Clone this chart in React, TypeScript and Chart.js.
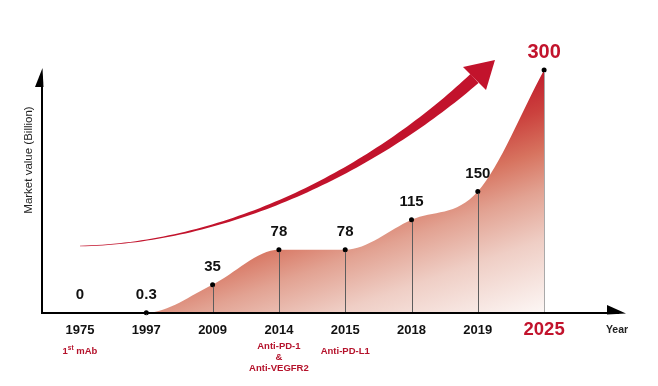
import { useEffect, useRef } from 'react';
import { Chart, registerables } from 'chart.js';

Chart.register(...registerables);

// ---------- data ----------
const YEARS: string[] = ['1975', '1997', '2009', '2014', '2015', '2018', '2019', '2025'];
const VALUES: number[] = [0, 0.3, 35, 78, 78, 115, 150, 300];
const VALUE_LABELS: string[] = ['0', '0.3', '35', '78', '78', '115', '150', '300'];
const NOTES: string[][] = [['1st mAb'], [], [], ['Anti-PD-1', '&', 'Anti-VEGFR2'], ['Anti-PD-L1'], [], [], []];
const X_TITLE = 'Year';
const Y_TITLE = 'Market value (Billion)';
const HIGHLIGHT_INDEX = 7;
// decorative growth arrow, in [category index, value] units
const ARROW_SHAFT: number[][] = [[0, 82.7], [2.262, 86.4], [4.442, 178.4], [5.95, 289.5]];
const ARROW_HEAD: number[][] = [[6.259, 312.3], [5.777, 303.7], [6.124, 275.3]];

const FONT = "'Liberation Sans', Arial, Helvetica, sans-serif";
const RED = '#c2132c';
const NOTE_RED = '#b5122b';

const overlayPlugin = {
  id: 'overlay',
  afterDatasetsDraw(chart: any) {
    const ctx: CanvasRenderingContext2D = chart.ctx;
    const ys = chart.scales.y;
    const meta = chart.getDatasetMeta(0);
    const base = ys.getPixelForValue(0);
    meta.data.forEach((pt: any, i: number) => {
      if (i === 0) return;
      ctx.save();
      ctx.strokeStyle = i === HIGHLIGHT_INDEX ? '#a9a9a9' : '#5c5c5c';
      ctx.lineWidth = 1;
      const x = Math.round(pt.x) + 0.5;
      ctx.beginPath();
      ctx.moveTo(x, pt.y + 2);
      ctx.lineTo(x, base);
      ctx.stroke();
      ctx.restore();
    });
  },
  afterDraw(chart: any) {
    const ctx: CanvasRenderingContext2D = chart.ctx;
    const xs = chart.scales.x;
    const ys = chart.scales.y;
    const area = chart.chartArea;
    const meta = chart.getDatasetMeta(0);
    const base = ys.getPixelForValue(0);
    const left = area.left;

    ctx.save();
    // axes
    ctx.strokeStyle = '#000';
    ctx.lineWidth = 2;
    ctx.beginPath();
    ctx.moveTo(left, base);
    ctx.lineTo(area.right - 6, base);
    ctx.moveTo(left, base + 1);
    ctx.lineTo(left, area.top + 20);
    ctx.stroke();
    ctx.fillStyle = '#000';
    ctx.beginPath();
    ctx.moveTo(area.right - 18, base - 8);
    ctx.lineTo(area.right + 1, base + 0.5);
    ctx.lineTo(area.right - 18, base + 1.5);
    ctx.closePath();
    ctx.fill();
    ctx.beginPath();
    ctx.moveTo(left + 0.5, area.top + 8);
    ctx.lineTo(left + 1.5, area.top + 27);
    ctx.lineTo(left - 7, area.top + 27);
    ctx.closePath();
    ctx.fill();

    // growth arrow
    const P = ARROW_SHAFT.map(([i, v]) => [xs.getPixelForValue(i), ys.getPixelForValue(v)]);
    const bez = (t: number) => {
      const a = (1 - t) ** 3, b = 3 * (1 - t) ** 2 * t, c = 3 * (1 - t) * t * t, d = t ** 3;
      return [a * P[0][0] + b * P[1][0] + c * P[2][0] + d * P[3][0], a * P[0][1] + b * P[1][1] + c * P[2][1] + d * P[3][1]];
    };
    const der = (t: number) => {
      const a = 3 * (1 - t) ** 2, b = 6 * (1 - t) * t, c = 3 * t * t;
      return [a * (P[1][0] - P[0][0]) + b * (P[2][0] - P[1][0]) + c * (P[3][0] - P[2][0]),
        a * (P[1][1] - P[0][1]) + b * (P[2][1] - P[1][1]) + c * (P[3][1] - P[2][1])];
    };
    const N = 80;
    const upper: number[][] = [];
    const lower: number[][] = [];
    for (let k = 0; k <= N; k++) {
      const t = k / N;
      const [cx, cy] = bez(t);
      const [dx, dy] = der(t);
      const len = Math.hypot(dx, dy) || 1;
      const nx = -dy / len, ny = dx / len;
      const w = (0.6 + 11.5 * Math.pow(t, 1.6)) / 2;
      upper.push([cx + nx * w, cy + ny * w]);
      lower.push([cx - nx * w, cy - ny * w]);
    }
    ctx.fillStyle = RED;
    ctx.beginPath();
    ctx.moveTo(upper[0][0], upper[0][1]);
    upper.forEach(p => ctx.lineTo(p[0], p[1]));
    for (let k = lower.length - 1; k >= 0; k--) ctx.lineTo(lower[k][0], lower[k][1]);
    ctx.closePath();
    ctx.fill();
    const H = ARROW_HEAD.map(([i, v]) => [xs.getPixelForValue(i), ys.getPixelForValue(v)]);
    ctx.beginPath();
    ctx.moveTo(H[0][0], H[0][1]);
    ctx.lineTo(H[1][0], H[1][1]);
    ctx.lineTo(H[2][0], H[2][1]);
    ctx.closePath();
    ctx.fill();

    // value labels
    ctx.textAlign = 'center';
    ctx.textBaseline = 'middle';
    meta.data.forEach((pt: any, i: number) => {
      const hl = i === HIGHLIGHT_INDEX;
      ctx.fillStyle = hl ? RED : '#111';
      ctx.font = `bold ${hl ? 20 : 15}px ${FONT}`;
      ctx.fillText(VALUE_LABELS[i], pt.x, Math.min(pt.y, base) - 18);
    });

    // year labels
    YEARS.forEach((y, i) => {
      const x = xs.getPixelForValue(i);
      const hl = i === HIGHLIGHT_INDEX;
      ctx.fillStyle = hl ? RED : '#111';
      ctx.font = `bold ${hl ? 18.5 : 13}px ${FONT}`;
      ctx.fillText(y, x, base + 17);
    });
    ctx.fillStyle = '#222';
    ctx.font = `bold 10.5px ${FONT}`;
    ctx.fillText(X_TITLE, xs.getPixelForValue(YEARS.length - 1 + 1.1), base + 17);

    // notes
    NOTES.forEach((lines, i) => {
      if (!lines.length) return;
      const x = xs.getPixelForValue(i);
      const y0 = lines.length > 1 ? base + 33 : base + 38;
      lines.forEach((line, j) => {
        const y = y0 + j * 11;
        ctx.fillStyle = NOTE_RED;
        const m = line.match(/^(\d+)(st|nd|rd|th)(\s.*)$/);
        if (m) {
          const f1 = `bold 9.5px ${FONT}`;
          const f2 = `bold 6.5px ${FONT}`;
          ctx.font = f1;
          const w1 = ctx.measureText(m[1]).width;
          const w3 = ctx.measureText(m[3]).width;
          ctx.font = f2;
          const w2 = ctx.measureText(m[2]).width;
          let sx = x - (w1 + w2 + w3) / 2;
          ctx.textAlign = 'left';
          ctx.font = f1;
          ctx.fillText(m[1], sx, y);
          sx += w1;
          ctx.font = f2;
          ctx.fillText(m[2], sx, y - 2.5);
          sx += w2;
          ctx.font = f1;
          ctx.fillText(m[3], sx, y);
          ctx.textAlign = 'center';
        } else {
          ctx.font = `bold 9.5px ${FONT}`;
          ctx.fillText(line, x, y);
        }
      });
    });

    // y title
    ctx.save();
    ctx.translate(29, 160);
    ctx.rotate(-Math.PI / 2);
    ctx.fillStyle = '#222';
    ctx.font = `11.5px ${FONT}`;
    ctx.fillText(Y_TITLE, 0, 0);
    ctx.restore();

    ctx.restore();
  },
};

export default function App() {
  const ref = useRef<HTMLCanvasElement | null>(null);
  useEffect(() => {
    document.body.style.margin = '0';
    const canvas = ref.current;
    if (!canvas) return;
    const chart = new Chart(canvas, {
      type: 'line',
      data: {
        datasets: [
          {
            data: VALUES.map((v, i) => ({ x: i, y: v })),
            fill: 'origin',
            cubicInterpolationMode: 'monotone',
            borderWidth: 0,
            borderColor: 'rgba(0,0,0,0)',
            pointRadius: VALUES.map((_, i) => (i === 0 ? 0 : 2.5)),
            pointHoverRadius: 0,
            pointBackgroundColor: '#000',
            pointBorderWidth: 0,
            clip: false as any,
            backgroundColor: (c: any) => {
              const { ctx, chartArea } = c.chart;
              if (!chartArea) return 'rgba(220,140,120,0.6)';
              const g = ctx.createLinearGradient(0, 255, 76.4, 473.3);
              g.addColorStop(0, '#c0172a');
              g.addColorStop(0.184, '#cb423e');
              g.addColorStop(0.347, '#d7735f');
              g.addColorStop(0.51, '#e2a292');
              g.addColorStop(0.714, '#efcec5');
              g.addColorStop(1, '#fcf5f3');
              return g;
            },
          },
        ],
      },
      options: {
        responsive: false,
        animation: false,
        events: [],
        layout: { padding: { left: 42, right: 33, top: 60, bottom: 73 } },
        plugins: { legend: { display: false }, tooltip: { enabled: false } },
        scales: {
          x: { type: 'linear', min: -0.573, max: 8.22, display: false },
          y: { type: 'linear', min: 0, max: 312.35, display: false },
        },
      },
      plugins: [overlayPlugin],
    });
    return () => chart.destroy();
  }, []);
  return (
    <div style={{ position: 'absolute', left: 0, top: 0, width: 658, height: 386, background: '#fff' }}>
      <canvas ref={ref} width={658} height={386} style={{ display: 'block' }} />
    </div>
  );
}
